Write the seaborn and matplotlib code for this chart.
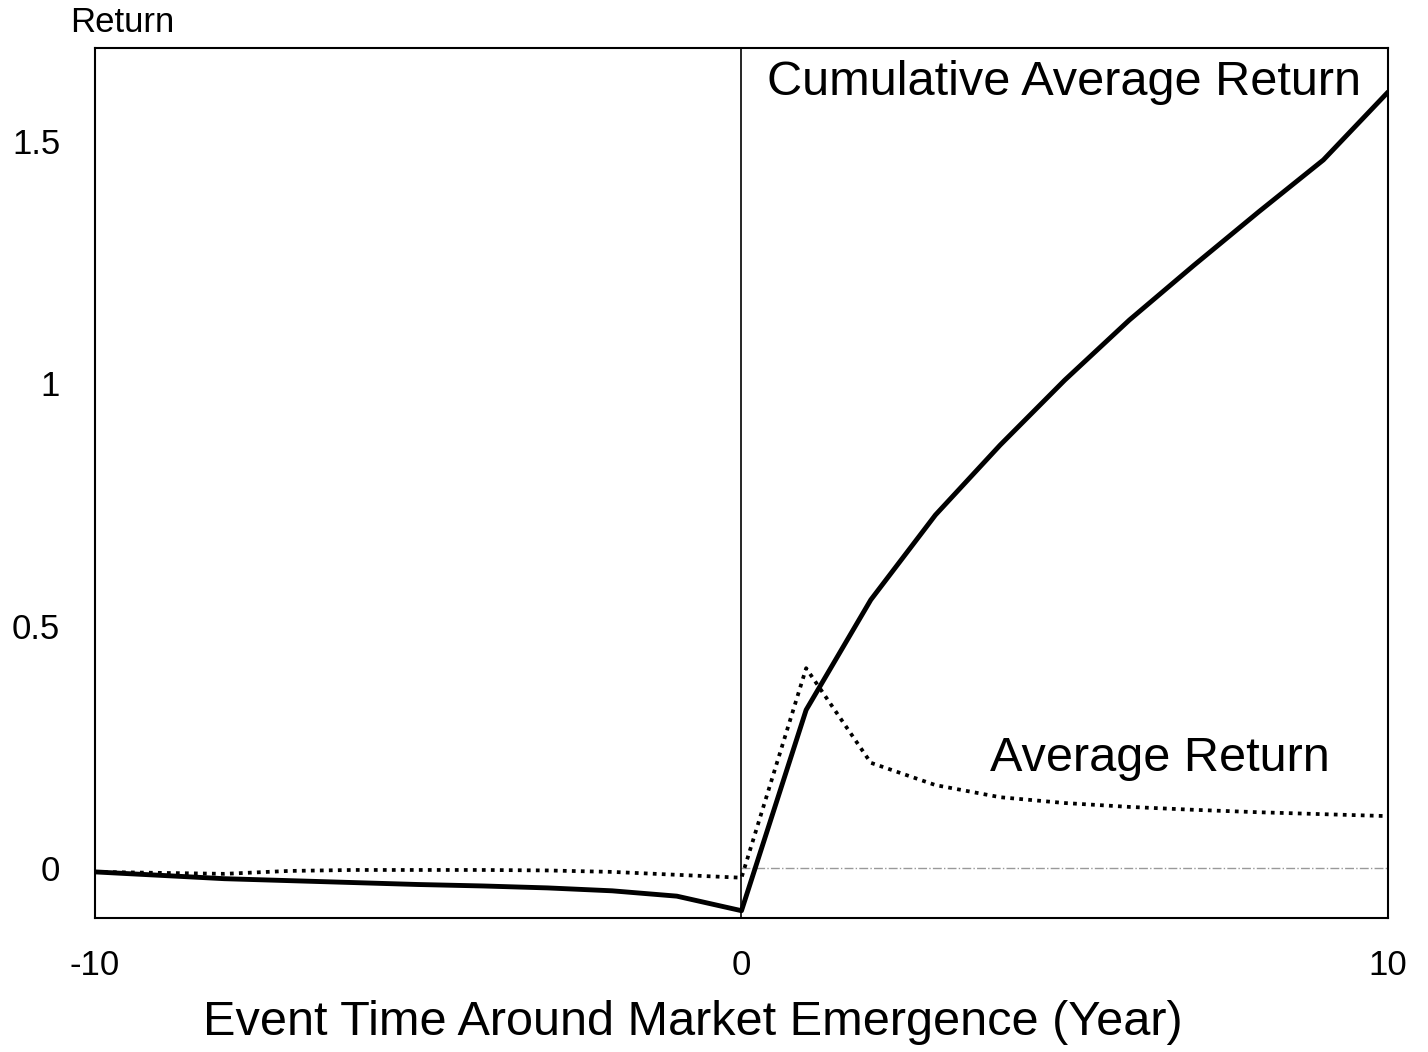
import numpy as np
import pandas as pd
import seaborn as sns
import matplotlib.pyplot as plt

# event years around market emergence
years = list(range(-10, 11))

# cumulative average return (solid)
cum_return = [-0.008, -0.015, -0.022, -0.026, -0.030, -0.034, -0.037, -0.041, -0.047, -0.058, -0.088,
              0.326, 0.553, 0.728, 0.872, 1.006, 1.130, 1.243, 1.353, 1.460, 1.600]

# average return (dotted)
avg_return = [-0.008, -0.010, -0.012, -0.006, -0.004, -0.004, -0.004, -0.005, -0.008, -0.014, -0.020,
              0.412, 0.217, 0.171, 0.146, 0.134, 0.126, 0.120, 0.115, 0.111, 0.107]

df = pd.DataFrame({"Year": years, "Cumulative": cum_return, "Average": avg_return})

sns.set_style("white")
plt.rcParams['font.family'] = ['Liberation Sans', 'DejaVu Sans']
plt.rcParams['text.color'] = 'black'
plt.rcParams['xtick.color'] = 'black'
plt.rcParams['ytick.color'] = 'black'
plt.rcParams['axes.labelcolor'] = 'black'

fig = plt.figure(figsize=(14.28, 10.52), dpi=100)
ax = fig.add_axes([0.0665, 0.1274, 0.9055, 0.8266])

# zero reference line on the right half, and the emergence line
ax.plot([0, 10], [0, 0], color="#999999", lw=1, linestyle="-.")
ax.axvline(0, color="black", lw=1.2)

sns.lineplot(data=df, x="Year", y="Cumulative", color="black", lw=3.5, ax=ax)
sns.lineplot(data=df, x="Year", y="Average", color="black", lw=2.7, linestyle=(0, (1, 1.4)), ax=ax)

ax.set_xlim(-10, 10)
ax.set_ylim(-0.103, 1.69)
ax.set_xticks([-10, 0, 10])
ax.set_xticklabels(["-10", "0", "10"])
ax.set_yticks([0, 0.5, 1, 1.5])
ax.set_yticklabels(["0", "0.5", "1", "1.5"])
ax.tick_params(axis="both", length=0, labelsize=25)
ax.tick_params(axis="y", pad=25)
ax.tick_params(axis="x", pad=22)

ax.set_xlabel("Event Time Around Market Emergence (Year)", fontsize=35)
ax.xaxis.set_label_coords(0.462, -0.094)
ax.set_ylabel("")
for s in ax.spines.values():
    s.set_color("black")
    s.set_linewidth(1.5)

ax.text(0.4, 1.62, "Cumulative Average Return", fontsize=35, va="center", ha="left")
ax.text(3.85, 0.225, "Average Return", fontsize=35, va="center", ha="left")
fig.text(0.049, 0.979, "Return", fontsize=25, va="center", ha="left")

fig.savefig("out.png", dpi=100)
